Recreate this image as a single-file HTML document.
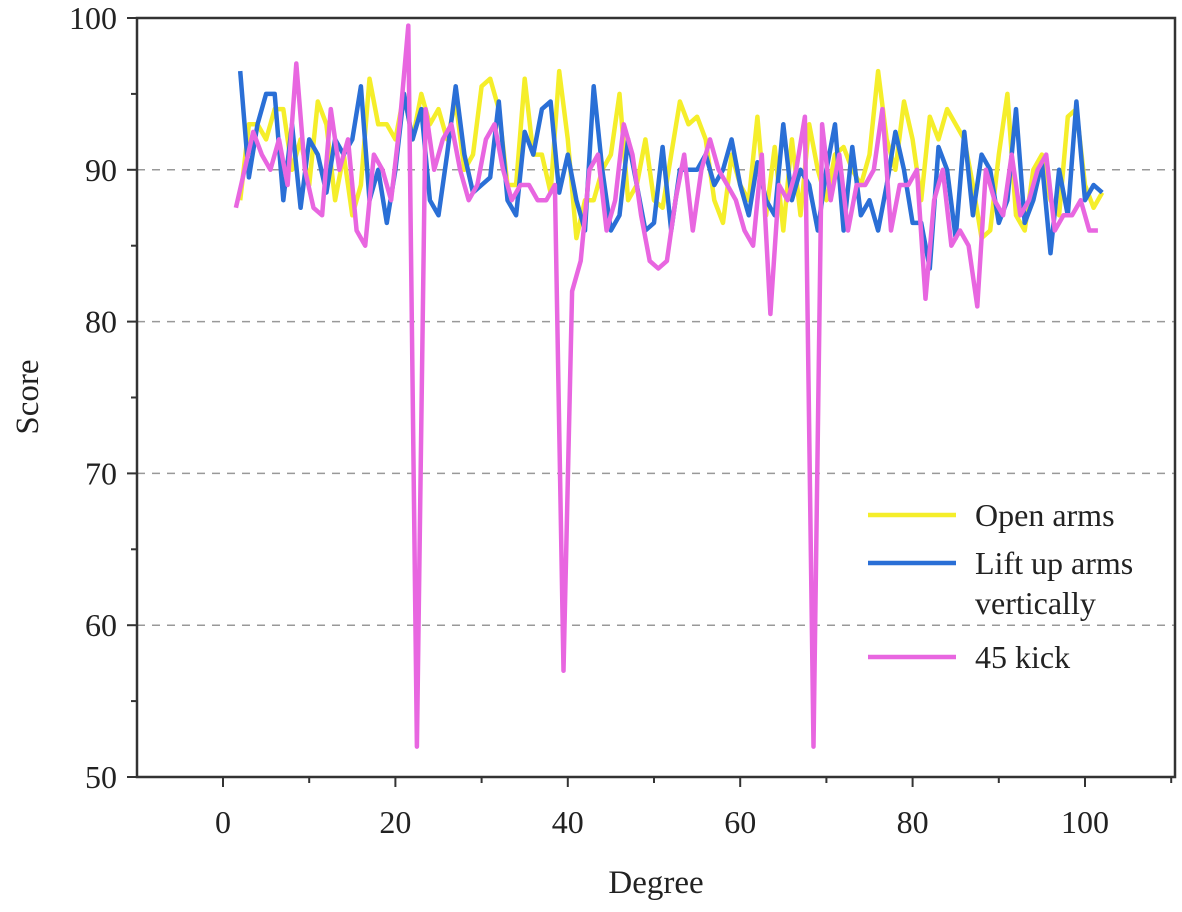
<!DOCTYPE html>
<html><head><meta charset="utf-8"><style>
body{margin:0;background:#fff;}
svg text{font-family:"Liberation Serif",serif;fill:#222;}
</style></head><body>
<svg id="c" width="1182" height="907"></svg>
<script>
const xStart={pink:1.5,blue:2,yellow:2};
const pinkValues=[87.5,90,92.5,91,90,92,89,97,90,87.5,87,94,90,92,86,85,91,90,88,93,99.5,52,94,90,92,93,90,88,89,92,93,90,88,89,89,88,88,89,57,82,84,90,91,86,88,93,91,87,84,83.5,84,88,91,86,90,92,90,89,88,86,85,91,80.5,89,88,90,93.5,52,93,88,91,86,89,89,90,94,86,89,89,90,81.5,88,90,85,86,85,81,90,88,87,91,87,88,90,91,86,87,87,88,86,86];
const blueValues=[96.5,89.5,93,95,95,88,93,87.5,92,91,88.5,92,91,92,95.5,88,90,86.5,90,95,92,94,88,87,91,95.5,91,88.5,89,89.5,94.5,88,87,92.5,91,94,94.5,88.5,91,88,86,95.5,90,86,87,92,89,86,86.5,91.5,86,90,90,90,91,89,90,92,89,87,90.5,88,87,93,88,90,89,86,90,93,86,91.5,87,88,86,89,92.5,90,86.5,86.5,83.5,91.5,90,85.5,92.5,87,91,90,86.5,88,94,86.5,88,90.5,84.5,90,87,94.5,88,89,88.5];
const yellowValues=[88,93,93,92,94,94,90,92,89,94.5,93,88,91,87,89,96,93,93,92,95,92,95,93,94,92,94.5,90,91,95.5,96,94,89,89,96,91,91,88.5,96.5,92,85.5,88,88,90,91,95,88,89,92,88,87.5,91,94.5,93,93.5,92,88,86.5,91,89,88,93.5,87,91.5,86,92,87,93,90,88,91,91.5,90,89,91,96.5,92,90,94.5,92,88,93.5,92,94,93,92,89,85.5,86,91,95,87,86,90,91,88,87,93.5,94,89,87.5,88.5];
const xTicks=[0,20,40,60,80,100];
const yTicks=[50,60,70,80,90,100];
const legendLabels=[["Open arms"],["Lift up arms","vertically"],["45 kick"]];

const L=137,R=1175,T=18,B=777;
const X=v=>223+(v)*(1085-223)/100;
const Y=v=>777-(v-50)*(777-18)/50;
const svg=document.getElementById('c');
const NS='http://www.w3.org/2000/svg';
function mk(tag,attrs,parent){const e=document.createElementNS(NS,tag);for(const k in attrs)e.setAttribute(k,attrs[k]);(parent||svg).appendChild(e);return e;}

[60,70,80,90].forEach(v=>{
  const g=mk('line',{x1:L,x2:R,y1:Y(v),y2:Y(v),stroke:'#999','stroke-width':1.5,'stroke-dasharray':'8,7'});
  
  
});
function series(vals,start,color,name){
  const d=vals.map((v,i)=>(i?'L':'M')+X(start+i).toFixed(1)+','+Y(v).toFixed(1)).join('');
  const p=mk('path',{d:d,fill:'none',stroke:color,'stroke-width':4.5,'stroke-linejoin':'round'});
  
  
}
series(yellowValues,xStart.yellow,'#f5ee2a','series-open-arms');
series(blueValues,xStart.blue,'#2a6fd6','series-lift-up-arms');
series(pinkValues,xStart.pink,'#e866e0','series-45-kick');
const fr=mk('rect',{x:L,y:T,width:R-L,height:B-T,fill:'none',stroke:'#333','stroke-width':2.5});


for(let v=50;v<=100;v+=5){
  const len=v%10===0?10:6;
  mk('line',{x1:L-len,x2:L,y1:Y(v),y2:Y(v),stroke:'#333','stroke-width':2});
}
yTicks.forEach(v=>{
  const t=mk('text',{x:117,y:Y(v)+11,'text-anchor':'end','font-size':32});
  t.textContent=v;
  
  
});
for(let v=-10;v<=110;v+=10){
  if(X(v)<L||X(v)>R)continue;
  const len=v%20===0?10:6;
  mk('line',{x1:X(v),x2:X(v),y1:B,y2:B+len,stroke:'#333','stroke-width':2});
}
xTicks.forEach(v=>{
  const t=mk('text',{x:X(v),y:833,'text-anchor':'middle','font-size':32});
  t.textContent=v;
  
  
});
const xt=mk('text',{x:656,y:893,'text-anchor':'middle','font-size':33});
xt.textContent='Degree';


const yt=mk('text',{x:0,y:0,'text-anchor':'middle','font-size':33,transform:'translate(38,397) rotate(-90)'});
yt.textContent='Score';


const colors=['#f5ee2a','#2a6fd6','#e866e0'];
const ly=[515,563,657];
legendLabels.forEach((lines,i)=>{
  const g=mk('g',{});
  
  
  mk('line',{x1:868,x2:956,y1:ly[i],y2:ly[i],stroke:colors[i],'stroke-width':4.5},g);
  lines.forEach((s,j)=>{
    const t=mk('text',{x:975,y:ly[i]+11+j*40,'font-size':32},g);
    t.textContent=s;
  });
});
</script>
</body></html>
